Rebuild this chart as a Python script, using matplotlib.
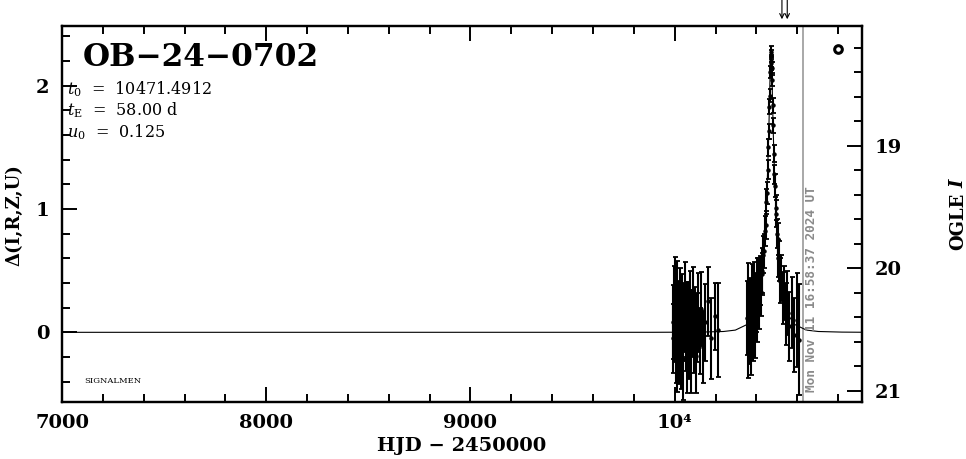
import matplotlib
matplotlib.use("Agg")
import matplotlib.pyplot as plt
from matplotlib.ticker import MultipleLocator, FixedLocator, FixedFormatter

plt.rcParams['font.family'] = ['DejaVu Serif']
plt.rcParams['mathtext.fontset'] = 'dejavuserif'

# model parameters
t0 = 10471.4912
tE = 58.00
u0 = 0.125
I_base = 20.515

# season 1 (HJD-2450000, delta mag, error)
t1 = [9990, 9993, 9996, 9999, 10002, 10004, 10007, 10010, 10013, 10016, 10019, 10022,
      10025, 10028, 10031, 10034, 10038, 10041, 10045, 10049, 10053, 10056, 10060, 10064,
      10068, 10072, 10076, 10080, 10084, 10089, 10094, 10099, 10104, 10110, 10116, 10123,
      10131, 10140, 10150, 10162, 10178, 10196, 10214]
d1 = [0.08, -0.05, 0.21, 0.02, 0.30, -0.12, 0.10, 0.26, -0.18, 0.05, 0.14, -0.08,
      0.22, 0.00, -0.15, 0.18, 0.06, -0.22, 0.12, 0.27, -0.04, 0.09, -0.20, 0.15,
      0.03, -0.10, 0.20, -0.16, 0.07, 0.24, -0.02, 0.11, -0.19, 0.04, 0.16, -0.07,
      0.19, -0.12, 0.08, 0.25, -0.05, 0.13, 0.02]
e1 = [0.30, 0.28, 0.33, 0.26, 0.31, 0.29, 0.27, 0.32, 0.30, 0.25, 0.28, 0.34,
      0.30, 0.27, 0.31, 0.29, 0.26, 0.33, 0.28, 0.30, 0.27, 0.32, 0.29, 0.26,
      0.31, 0.28, 0.30, 0.33, 0.27, 0.29, 0.31, 0.26, 0.30, 0.28, 0.32, 0.27,
      0.30, 0.29, 0.31, 0.28, 0.33, 0.27, 0.38]

# season 2, with the event
t2 = [10353, 10357, 10361, 10365, 10369, 10373, 10377, 10381, 10385, 10389, 10393, 10397,
      10401, 10405, 10409, 10413, 10417, 10421, 10425, 10429, 10433, 10437, 10441, 10445,
      10449, 10452, 10455, 10458, 10461, 10463, 10465, 10467, 10469, 10470.5, 10472, 10473.5,
      10475, 10477, 10479, 10482, 10485, 10488, 10491, 10494, 10497, 10500, 10504, 10508,
      10512, 10517, 10522, 10528, 10535, 10543, 10552, 10562, 10573, 10585, 10598, 10610]
d2 = [0.12, -0.10, 0.25, 0.02, 0.18, -0.05, 0.28, 0.06, 0.20, 0.30, 0.05, 0.24,
      0.35, 0.15, 0.38, 0.25, 0.42, 0.33, 0.50, 0.47, 0.63, 0.66, 0.82, 0.87,
      1.06, 1.13, 1.32, 1.50, 1.63, 1.83, 1.92, 2.11, 2.18, 2.24, 2.27, 2.20,
      2.14, 2.05, 1.84, 1.68, 1.45, 1.28, 1.19, 1.01, 0.96, 0.80, 0.76, 0.60,
      0.58, 0.42, 0.44, 0.28, 0.32, 0.15, 0.24, 0.05, 0.16, -0.02, 0.10, -0.06]
e2 = [0.30, 0.27, 0.31, 0.28, 0.26, 0.30, 0.27, 0.29, 0.25, 0.27, 0.26, 0.24,
      0.25, 0.23, 0.22, 0.22, 0.20, 0.20, 0.18, 0.17, 0.15, 0.14, 0.12, 0.11,
      0.10, 0.09, 0.08, 0.07, 0.06, 0.06, 0.05, 0.05, 0.05, 0.05, 0.05, 0.05,
      0.05, 0.05, 0.06, 0.06, 0.07, 0.08, 0.09, 0.10, 0.11, 0.12, 0.13, 0.15,
      0.16, 0.18, 0.19, 0.21, 0.22, 0.25, 0.26, 0.28, 0.29, 0.30, 0.38, 0.45]

# model curve
t_model = [7000, 9890, 10124, 10239, 10297, 10355, 10384, 10413, 10431, 10442, 10448, 10454,
           10460, 10463, 10466, 10469, 10471.5, 10474, 10477, 10480, 10483, 10489, 10495,
           10500, 10512, 10529, 10558, 10587, 10645, 10703, 10819, 10917]
d_model = [0.0, 0.0002, 0.0017, 0.0067, 0.018, 0.064, 0.135, 0.31, 0.55, 0.82, 1.01, 1.26,
           1.59, 1.79, 2.02, 2.20, 2.264, 2.20, 2.02, 1.80, 1.59, 1.26, 1.01,
           0.82, 0.55, 0.31, 0.135, 0.064, 0.018, 0.0067, 0.0017, 0.0006]

now_hjd = 10627
now_label = "Mon Nov 11 16:58:37 2024 UT"
arrow_t = [10525, 10551]
sym_t, sym_d = 10798, 2.30

W, H = 966, 459
fig = plt.figure(figsize=(W / 100, H / 100), dpi=100)
ax = fig.add_axes([62 / W, 1 - 401.5 / H, 800 / W, 375.5 / H])

ax.plot(t_model, d_model, color='k', lw=0.8, zorder=2)
for t, d, e in [(t1, d1, e1), (t2, d2, e2)]:
    ax.errorbar(t, d, yerr=e, fmt='o', ms=2.2, color='k', ecolor='k',
                elinewidth=1.5, capsize=1.8, capthick=1.3, zorder=3)

ax.axvline(now_hjd, color='#9a9a9a', lw=1.2, zorder=1)
ax.text(now_hjd + 45, -0.48, now_label, rotation=90, ha='center', va='bottom',
        color='#8a8a8a', family='DejaVu Sans Mono', weight='bold', size=9.2)

ax.plot(sym_t, sym_d, 'o', mfc='white', mec='k', mew=2.2, ms=5.5, zorder=4)

for xa in arrow_t:
    ax.annotate('', xy=(xa, 1.018), xytext=(xa, 1.07),
                xycoords=('data', 'axes fraction'), textcoords=('data', 'axes fraction'),
                arrowprops=dict(arrowstyle='->', lw=0.8, color='k',
                                mutation_scale=8, shrinkA=0, shrinkB=0),
                annotation_clip=False)

ax.set_xlim(7000, 10917)
ax.set_ylim(-0.561, 2.484)

ax.xaxis.set_major_locator(FixedLocator([7000, 8000, 9000, 10000]))
ax.xaxis.set_major_formatter(FixedFormatter(["7000", "8000", "9000", "10⁴"]))
ax.xaxis.set_minor_locator(MultipleLocator(200))
ax.yaxis.set_major_locator(FixedLocator([0, 1, 2]))
ax.yaxis.set_major_formatter(FixedFormatter(["0", "1", "2"]))
ax.yaxis.set_minor_locator(MultipleLocator(0.2))
ax.tick_params(which='both', direction='in', top=True, right=False, width=1.4,
               labelsize=14, pad=9)
ax.tick_params(which='major', length=11)
ax.tick_params(which='minor', length=6)
for s in ax.spines.values():
    s.set_linewidth(1.6)

ax2 = ax.twinx()
ax2.set_ylim(I_base + 0.572, I_base - 2.493)
ax2.yaxis.set_major_locator(FixedLocator([19, 20, 21]))
ax2.yaxis.set_major_formatter(FixedFormatter(["19", "20", "21"]))
ax2.yaxis.set_minor_locator(MultipleLocator(0.2))
ax2.tick_params(which='both', direction='in', width=1.4, labelsize=14, pad=9)
ax2.tick_params(which='major', length=11)
ax2.tick_params(which='minor', length=6)
for s in ax2.spines.values():
    s.set_linewidth(1.6)

for lab in ax.get_xticklabels() + ax.get_yticklabels() + ax2.get_yticklabels():
    lab.set_fontweight('bold')

fig.text(462 / W, 1 - 446 / H, "HJD − 2450000", ha='center', va='center',
         size=14, weight='bold')
fig.text(14 / W, 1 - 215 / H, "Δ(I,R,Z,U)", rotation=90, ha='center', va='center',
         size=13, weight='bold')
fig.text(958 / W, 1 - 250 / H, "OGLE", rotation=90, ha='center', va='bottom',
         size=13, weight='bold')
fig.text(958 / W, 1 - 188 / H, "I", rotation=90, ha='center', va='bottom',
         size=13, weight='bold', style='italic')

fig.text(83 / W, 1 - 66 / H, "OB−24−0702", size=22.5, weight='bold', va='baseline')
fig.text(67 / W, 1 - 94 / H, r"$t_0$  =  10471.4912", size=11.5, va='baseline')
fig.text(67 / W, 1 - 115 / H, r"$t_{\rm E}$  =  58.00 d", size=11.5, va='baseline')
fig.text(67 / W, 1 - 137 / H, r"$u_0$  =  0.125", size=11.5, va='baseline')
fig.text(84 / W, 1 - 383 / H, "SIGNALMEN", size=6, va='baseline')

fig.savefig("out.png", dpi=100)
